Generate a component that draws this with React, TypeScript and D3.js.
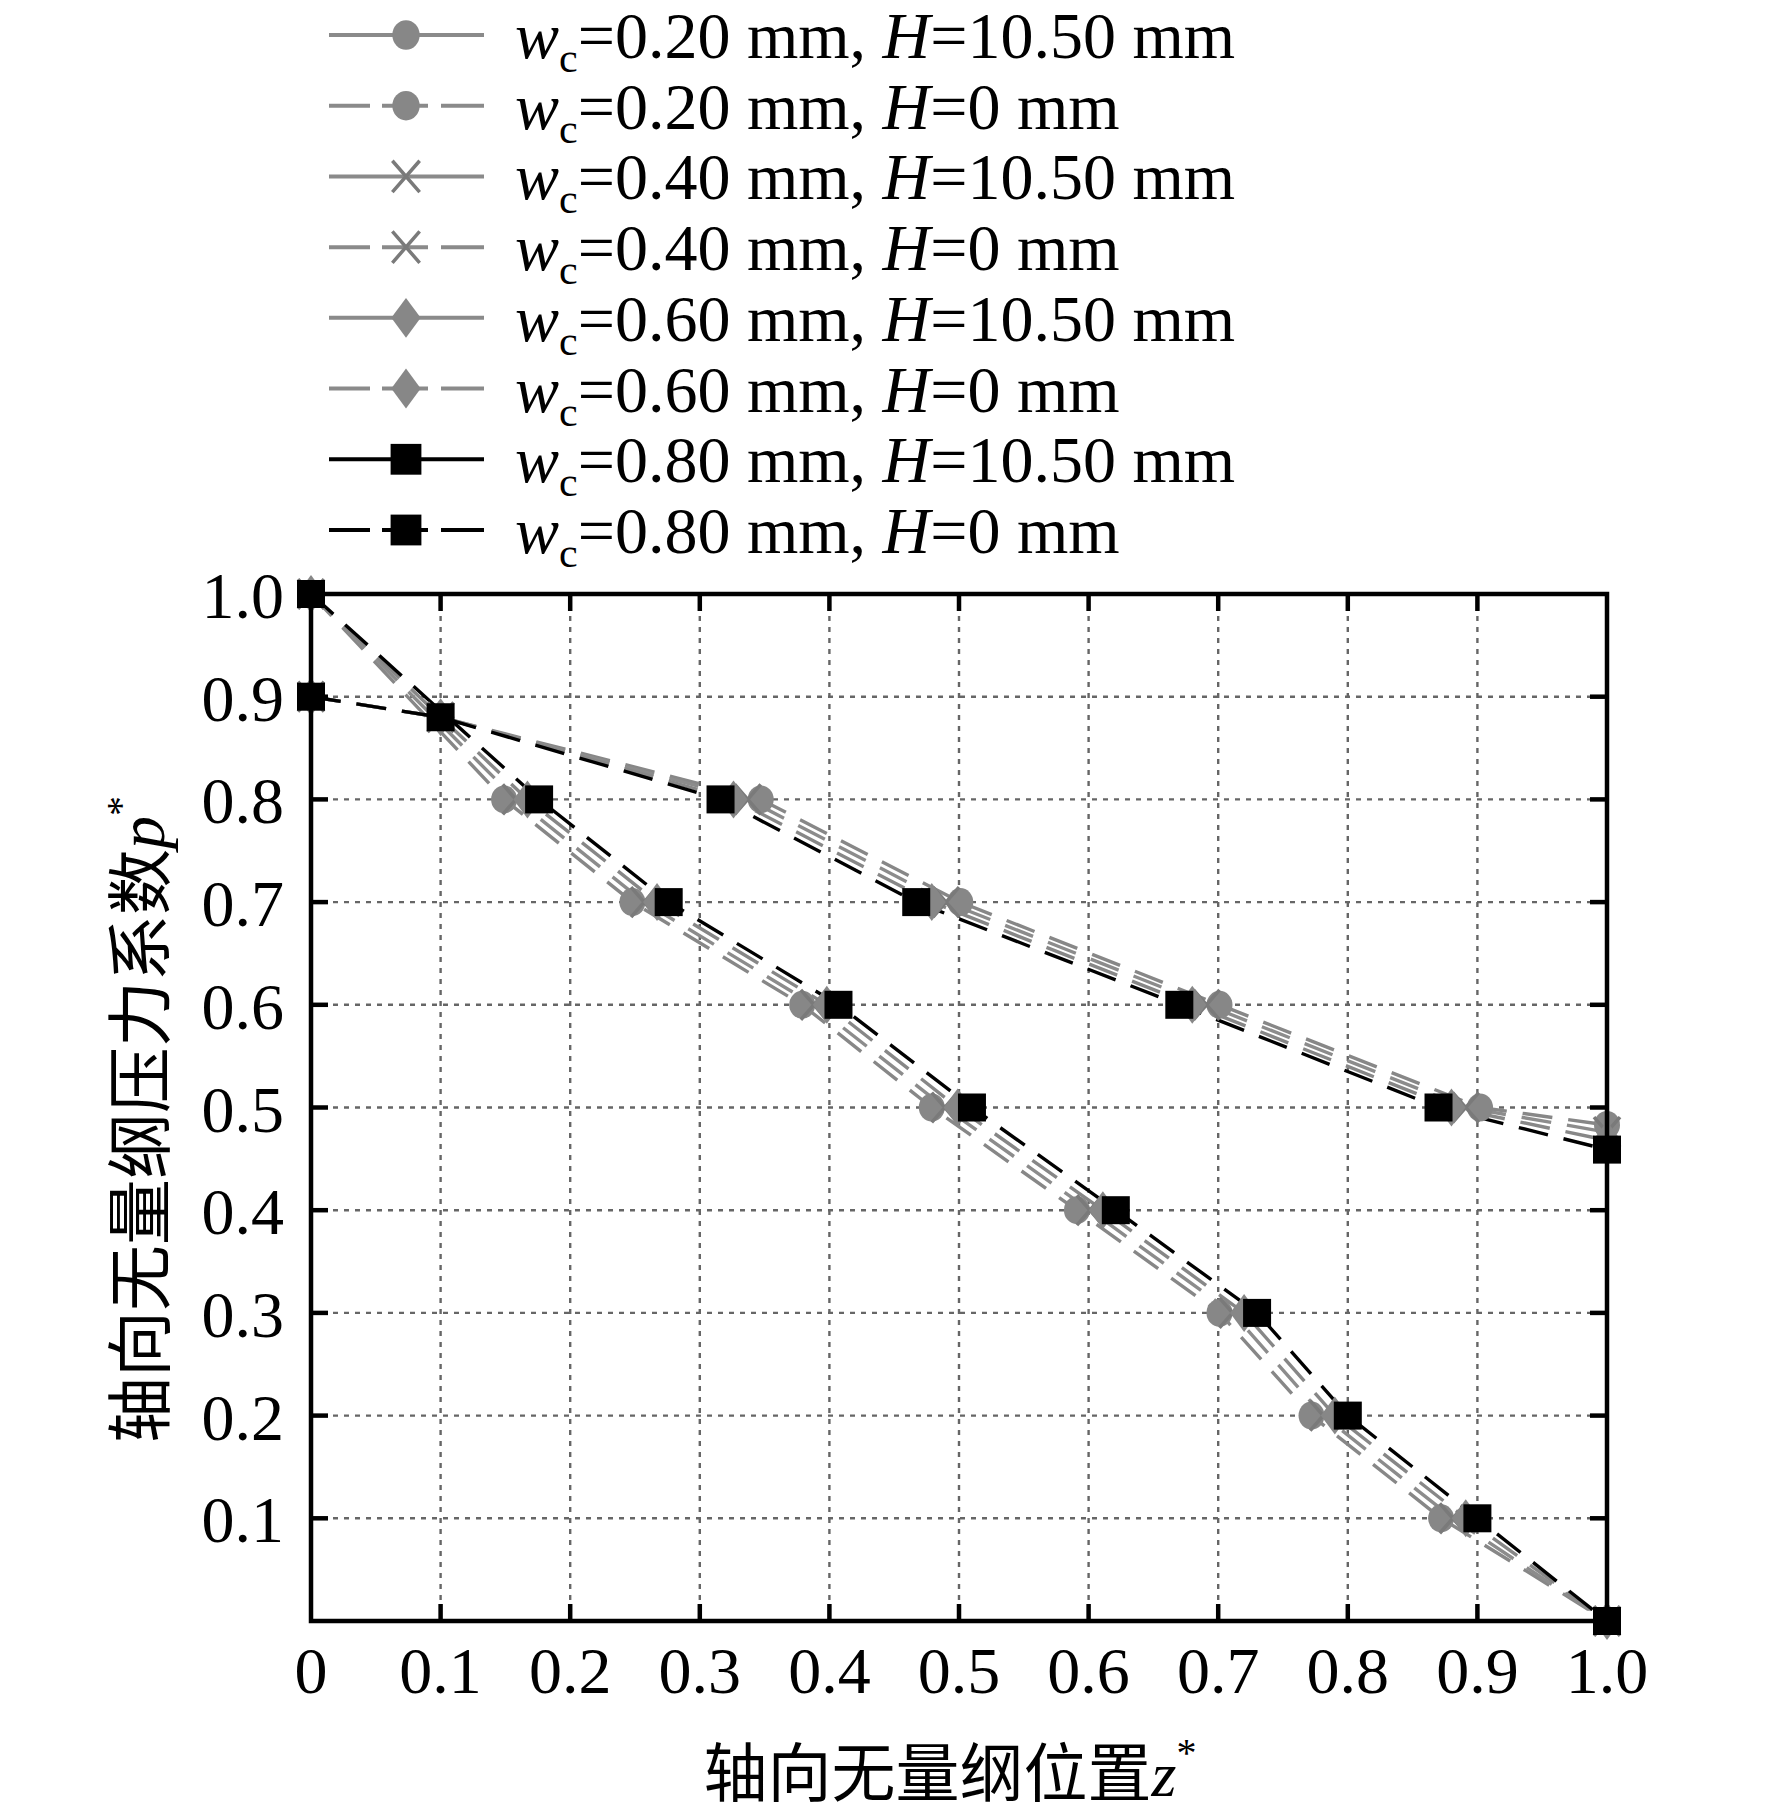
import { useEffect, useRef } from 'react';
import * as d3 from 'd3';

const WIDTH = 1772;
const HEIGHT = 1816;

const X_TICKS = [0, 0.1, 0.2, 0.3, 0.4, 0.5, 0.6, 0.7, 0.8, 0.9, 1.0];
const X_TICK_LABELS = ['0', '0.1', '0.2', '0.3', '0.4', '0.5', '0.6', '0.7', '0.8', '0.9', '1.0'];
const Y_TICKS = [0.1, 0.2, 0.3, 0.4, 0.5, 0.6, 0.7, 0.8, 0.9, 1.0];
const Y_TICK_LABELS = ['0.1', '0.2', '0.3', '0.4', '0.5', '0.6', '0.7', '0.8', '0.9', '1.0'];

const WC_VALUES = ['0.20', '0.40', '0.60', '0.80'];
const H_VALUES = ['10.50', '0'];

// H = 10.50 mm group (starts at 0.9)
const WC020_H1050: [number, number][] = [[0, 0.9], [0.1, 0.88], [0.347, 0.8], [0.501, 0.7], [0.701, 0.6], [0.902, 0.5], [1.0, 0.483]];
const WC040_H1050: [number, number][] = [[0, 0.9], [0.1, 0.88], [0.337, 0.8], [0.490, 0.7], [0.691, 0.6], [0.891, 0.5], [1.0, 0.476]];
const WC060_H1050: [number, number][] = [[0, 0.9], [0.1, 0.88], [0.326, 0.8], [0.479, 0.7], [0.680, 0.6], [0.880, 0.5], [1.0, 0.468]];
const WC080_H1050: [number, number][] = [[0, 0.9], [0.1, 0.88], [0.316, 0.8], [0.467, 0.7], [0.670, 0.6], [0.870, 0.5], [1.0, 0.459]];

// H = 0 mm group (starts at 1.0)
const WC020_H0: [number, number][] = [[0, 1.0], [0.149, 0.8], [0.248, 0.7], [0.379, 0.6], [0.479, 0.5], [0.591, 0.4], [0.701, 0.3], [0.772, 0.2], [0.872, 0.1], [1.0, 0]];
const WC040_H0: [number, number][] = [[0, 1.0], [0.158, 0.8], [0.257, 0.7], [0.388, 0.6], [0.489, 0.5], [0.601, 0.4], [0.711, 0.3], [0.781, 0.2], [0.881, 0.1], [1.0, 0]];
const WC060_H0: [number, number][] = [[0, 1.0], [0.167, 0.8], [0.267, 0.7], [0.398, 0.6], [0.499, 0.5], [0.611, 0.4], [0.720, 0.3], [0.790, 0.2], [0.891, 0.1], [1.0, 0]];
const WC080_H0: [number, number][] = [[0, 1.0], [0.176, 0.8], [0.276, 0.7], [0.407, 0.6], [0.510, 0.5], [0.621, 0.4], [0.730, 0.3], [0.800, 0.2], [0.900, 0.1], [1.0, 0]];

type Marker = 'circle' | 'cross' | 'diamond' | 'square';

const SERIES = [
  { wc: WC_VALUES[0], h: H_VALUES[0], marker: 'circle' as Marker, color: '#878787', dashed: false, data: WC020_H1050 },
  { wc: WC_VALUES[0], h: H_VALUES[1], marker: 'circle' as Marker, color: '#878787', dashed: true, data: WC020_H0 },
  { wc: WC_VALUES[1], h: H_VALUES[0], marker: 'cross' as Marker, color: '#8c8c8c', dashed: false, data: WC040_H1050 },
  { wc: WC_VALUES[1], h: H_VALUES[1], marker: 'cross' as Marker, color: '#8c8c8c', dashed: true, data: WC040_H0 },
  { wc: WC_VALUES[2], h: H_VALUES[0], marker: 'diamond' as Marker, color: '#878787', dashed: false, data: WC060_H1050 },
  { wc: WC_VALUES[2], h: H_VALUES[1], marker: 'diamond' as Marker, color: '#878787', dashed: true, data: WC060_H0 },
  { wc: WC_VALUES[3], h: H_VALUES[0], marker: 'square' as Marker, color: '#000000', dashed: false, data: WC080_H1050 },
  { wc: WC_VALUES[3], h: H_VALUES[1], marker: 'square' as Marker, color: '#000000', dashed: true, data: WC080_H0 },
];

const SERIF = '"Liberation Serif", "DejaVu Serif", serif';
const CJK = '"Noto Sans CJK SC", sans-serif';

function drawMarker(g: d3.Selection<SVGGElement, unknown, null, undefined>, kind: Marker, x: number, y: number, color: string, scale = 1) {
  if (kind === 'circle') {
    g.append('ellipse').attr('cx', x).attr('cy', y).attr('rx', 13 * scale).attr('ry', 14 * scale).attr('fill', color);
  } else if (kind === 'cross') {
    const s = 13 * scale;
    g.append('path').attr('d', `M${x - s},${y - s * 1.15}L${x + s},${y + s * 1.15}M${x - s},${y + s * 1.15}L${x + s},${y - s * 1.15}`)
      .attr('stroke', color).attr('stroke-width', 3.5).attr('fill', 'none');
  } else if (kind === 'diamond') {
    const w = 14 * scale, h = 19 * scale;
    g.append('path').attr('d', `M${x},${y - h}L${x + w},${y}L${x},${y + h}L${x - w},${y}Z`).attr('fill', color);
  } else {
    const s = 14 * scale;
    g.append('rect').attr('x', x - s).attr('y', y - s).attr('width', 2 * s).attr('height', 2 * s).attr('fill', color);
  }
}

export default function App() {
  const svgRef = useRef<SVGSVGElement>(null);

  useEffect(() => {
    const svgEl = svgRef.current;
    if (!svgEl) return;
    const svg = d3.select(svgEl);
    svg.selectAll('*').remove();

    const plot = { left: 311, right: 1607, top: 594, bottom: 1621 };
    const x = d3.scaleLinear().domain([0, 1]).range([plot.left, plot.right]);
    const y = d3.scaleLinear().domain([0, 1]).range([plot.bottom, plot.top]);

    svg.append('rect').attr('width', WIDTH).attr('height', HEIGHT).attr('fill', '#fff');

    // grid
    const grid = svg.append('g').attr('stroke', '#666').attr('stroke-width', 2.4).attr('stroke-dasharray', '5 6');
    X_TICKS.slice(1, -1).forEach((t) => {
      grid.append('line').attr('x1', x(t)).attr('x2', x(t)).attr('y1', plot.top).attr('y2', plot.bottom);
    });
    Y_TICKS.slice(0, -1).forEach((t) => {
      grid.append('line').attr('x1', plot.left).attr('x2', plot.right).attr('y1', y(t)).attr('y2', y(t));
    });

    // lines
    const line = d3.line<[number, number]>().x((d) => x(d[0])).y((d) => y(d[1]));
    const linesG = svg.append('g');
    SERIES.forEach((s) => {
      linesG.append('path').attr('d', line(s.data))
        .attr('fill', 'none').attr('stroke', s.color).attr('stroke-width', 3.4)
        .attr('stroke-dasharray', '30 16');
    });

    // markers
    const markG = svg.append('g');
    (['circle', 'cross', 'diamond', 'square'] as Marker[]).forEach((kind) => {
      SERIES.filter((s) => s.marker === kind).forEach((s) => {
        s.data.forEach((d) => drawMarker(markG, kind, x(d[0]), y(d[1]), kind === 'cross' ? '#7a7a7a' : s.color));
      });
    });

    // frame and ticks
    const axes = svg.append('g').attr('stroke', '#000').attr('stroke-width', 4.5);
    axes.append('rect').attr('x', plot.left).attr('y', plot.top)
      .attr('width', plot.right - plot.left).attr('height', plot.bottom - plot.top).attr('fill', 'none');
    const tickLen = 17;
    X_TICKS.slice(1, -1).forEach((t) => {
      axes.append('line').attr('x1', x(t)).attr('x2', x(t)).attr('y1', plot.bottom).attr('y2', plot.bottom - tickLen);
      axes.append('line').attr('x1', x(t)).attr('x2', x(t)).attr('y1', plot.top).attr('y2', plot.top + tickLen);
    });
    Y_TICKS.slice(0, -1).forEach((t) => {
      axes.append('line').attr('x1', plot.left).attr('x2', plot.left + tickLen).attr('y1', y(t)).attr('y2', y(t));
      axes.append('line').attr('x1', plot.right).attr('x2', plot.right - tickLen).attr('y1', y(t)).attr('y2', y(t));
    });

    // tick labels
    const labels = svg.append('g').attr('font-family', SERIF).attr('font-size', 66).attr('fill', '#000');
    X_TICKS.forEach((t, i) => {
      labels.append('text').attr('x', x(t)).attr('y', 1693).attr('text-anchor', 'middle').text(X_TICK_LABELS[i]);
    });
    Y_TICKS.forEach((t, i) => {
      labels.append('text').attr('x', 284).attr('y', y(t) + 24).attr('text-anchor', 'end').text(Y_TICK_LABELS[i]);
    });

    // axis titles
    const xt = svg.append('text').attr('x', (plot.left + plot.right) / 2 - 9).attr('y', 1796)
      .attr('text-anchor', 'middle').attr('font-size', 64).attr('fill', '#000');
    xt.append('tspan').attr('font-family', CJK).text('轴向无量纲位置');
    xt.append('tspan').attr('font-family', SERIF).attr('font-style', 'italic').text('z');
    xt.append('tspan').attr('font-family', SERIF).attr('font-size', 40).attr('dy', -30).text('*');

    const yt = svg.append('text').attr('transform', `translate(164,${(plot.top + plot.bottom) / 2 + 12}) rotate(-90)`)
      .attr('text-anchor', 'middle').attr('font-size', 66).attr('fill', '#000');
    yt.append('tspan').attr('font-family', CJK).text('轴向无量纲压力系数');
    yt.append('tspan').attr('font-family', SERIF).attr('font-style', 'italic').text('p');
    yt.append('tspan').attr('font-family', SERIF).attr('font-size', 40).attr('dy', -30).text('*');

    // legend
    const legend = svg.append('g');
    const rowY = d3.scaleLinear().domain([0, SERIES.length - 1]).range([35, 530]);
    SERIES.forEach((s, i) => {
      const cy = rowY(i);
      const lineColor = s.color === '#000000' ? '#000' : '#8a8a8a';
      if (s.dashed) {
        legend.append('line').attr('x1', 329).attr('x2', 370).attr('y1', cy).attr('y2', cy).attr('stroke', lineColor).attr('stroke-width', 4);
        legend.append('line').attr('x1', 382).attr('x2', 428).attr('y1', cy).attr('y2', cy).attr('stroke', lineColor).attr('stroke-width', 4);
        legend.append('line').attr('x1', 441).attr('x2', 484).attr('y1', cy).attr('y2', cy).attr('stroke', lineColor).attr('stroke-width', 4);
      } else {
        legend.append('line').attr('x1', 329).attr('x2', 484).attr('y1', cy).attr('y2', cy).attr('stroke', lineColor).attr('stroke-width', 4);
      }
      drawMarker(legend, s.marker, 406, cy, s.marker === 'cross' ? '#7a7a7a' : s.color, s.marker === 'square' ? 1.1 : 1.05);

      const txt = legend.append('text').attr('x', 515).attr('y', cy + 23)
        .attr('font-family', SERIF).attr('font-size', 66).attr('fill', '#000');
      txt.append('tspan').attr('font-style', 'italic').text('w');
      txt.append('tspan').attr('font-size', 42).attr('dy', 14).text('c');
      txt.append('tspan').attr('dy', -14).text(`=${s.wc} mm, `);
      txt.append('tspan').attr('font-style', 'italic').text('H');
      txt.append('tspan').text(`=${s.h} mm`);
    });
  }, []);

  return (
    <svg ref={svgRef} width={WIDTH} height={HEIGHT} viewBox={`0 0 ${WIDTH} ${HEIGHT}`}
      style={{ position: 'absolute', left: 0, top: 0, display: 'block' }} role="img" aria-label="轴向无量纲压力系数分布" />
  );
}
